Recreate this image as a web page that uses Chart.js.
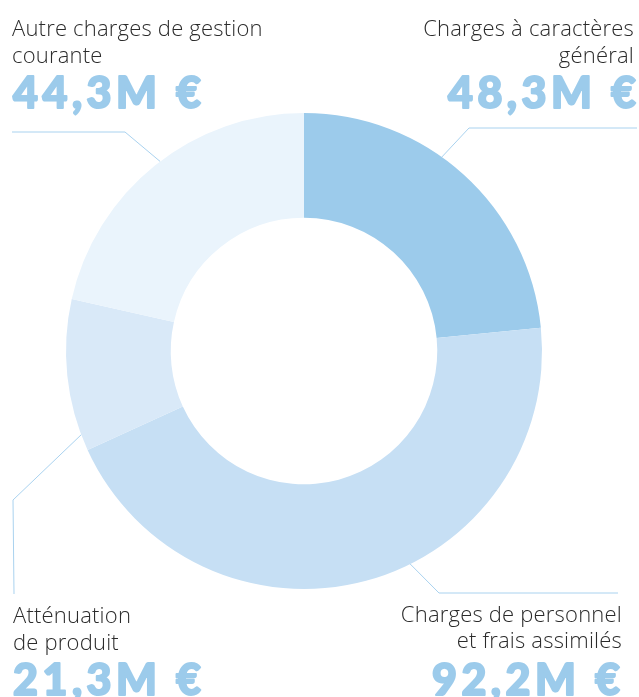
<!DOCTYPE html>
<html lang="fr">
<head>
<meta charset="UTF-8">
<title>Dépenses de fonctionnement</title>
<script src="https://cdn.jsdelivr.net/npm/chart.js@4.4.2/dist/chart.umd.min.js"></script>
<style>
  body { margin: 0; padding: 0; background: #fff; }
  .wrap { width: 639px; height: 697px; position: relative; }
</style>
</head>
<body>
<div class="wrap"><canvas id="donut"></canvas></div>
<script>
// postes de dépenses, dans l'ordre horaire depuis midi
const categories = [
  ['Charges à caractères', 'général'],
  ['Charges de personnel', 'et frais assimilés'],
  ['Atténuation', 'de produit'],
  ['Autre charges de gestion', 'courante']
];
const amounts = [48.3, 92.2, 21.3, 44.3];
const sliceColors = ['#9ccbeb', '#c6dff4', '#d9e9f8', '#eaf4fc'];

// placement des étiquettes et des traits de rappel
const labelPos = [
  { x: 634, vx: 636, align: 'right', y: [36, 63], vy: 108, angle: 35.4, path: [[469, 128], [637, 128]] },
  { x: 622, vx: 620, align: 'right', y: [622, 648], vy: 695, angle: 153.5, path: [[439, 593], [618, 593]] },
  { x: 13, vx: 13, align: 'left', y: [623, 650], vy: 695, angle: 249.4, path: [[13, 500], [14, 594]] },
  { x: 12, vx: 13, align: 'left', y: [36, 63], vy: 108, angle: 322.8, path: [[125, 132], [12, 132]] }
];

function fmt(v) {
  return v.toFixed(1).replace('.', ',') + 'M €';
}

const calloutPlugin = {
  id: 'callouts',
  afterDraw(chart) {
    const ctx = chart.ctx;
    const arcs = chart.getDatasetMeta(0).data;
    ctx.save();
    arcs.forEach((arc, i) => {
      const p = labelPos[i];
      const a = (p.angle - 90) * Math.PI / 180;
      // trait depuis le bord du cercle
      ctx.beginPath();
      ctx.strokeStyle = '#a9d2ef';
      ctx.lineWidth = 1;
      ctx.moveTo(arc.x + Math.cos(a) * arc.outerRadius, arc.y + Math.sin(a) * arc.outerRadius);
      p.path.forEach(pt => ctx.lineTo(pt[0], pt[1]));
      ctx.stroke();

      ctx.textAlign = p.align;
      ctx.textBaseline = 'alphabetic';
      ctx.fillStyle = '#2b2b2b';
      ctx.font = '300 22px "Open Sans"';
      ctx.letterSpacing = '0.2px';
      categories[i].forEach((line, k) => ctx.fillText(line, p.x, p.y[k]));

      // montant en gras épais : remplissage + contour de même couleur
      ctx.fillStyle = '#9ccbeb';
      ctx.strokeStyle = '#9ccbeb';
      ctx.lineWidth = 2;
      ctx.lineJoin = 'round';
      ctx.font = '900 43px Lato';
      ctx.letterSpacing = '4.5px';
      // avec letterSpacing, l'espace final décale le texte aligné à droite
      const x = p.align === 'right' ? p.vx + 4.5 : p.vx;
      const txt = fmt(amounts[i]);
      ctx.strokeText(txt, x, p.vy);
      ctx.fillText(txt, x, p.vy);
    });
    ctx.restore();
  }
};

new Chart(document.getElementById('donut'), {
  type: 'doughnut',
  data: {
    labels: categories.map(c => c.join(' ')),
    datasets: [{
      data: amounts,
      backgroundColor: sliceColors,
      borderWidth: 0
    }]
  },
  options: {
    responsive: true,
    maintainAspectRatio: false,
    animation: false,
    cutout: '56%',
    layout: { padding: { left: 66, right: 97, top: 113, bottom: 108 } },
    plugins: {
      legend: { display: false },
      tooltip: { enabled: false }
    }
  },
  plugins: [calloutPlugin]
});
</script>
</body>
</html>
